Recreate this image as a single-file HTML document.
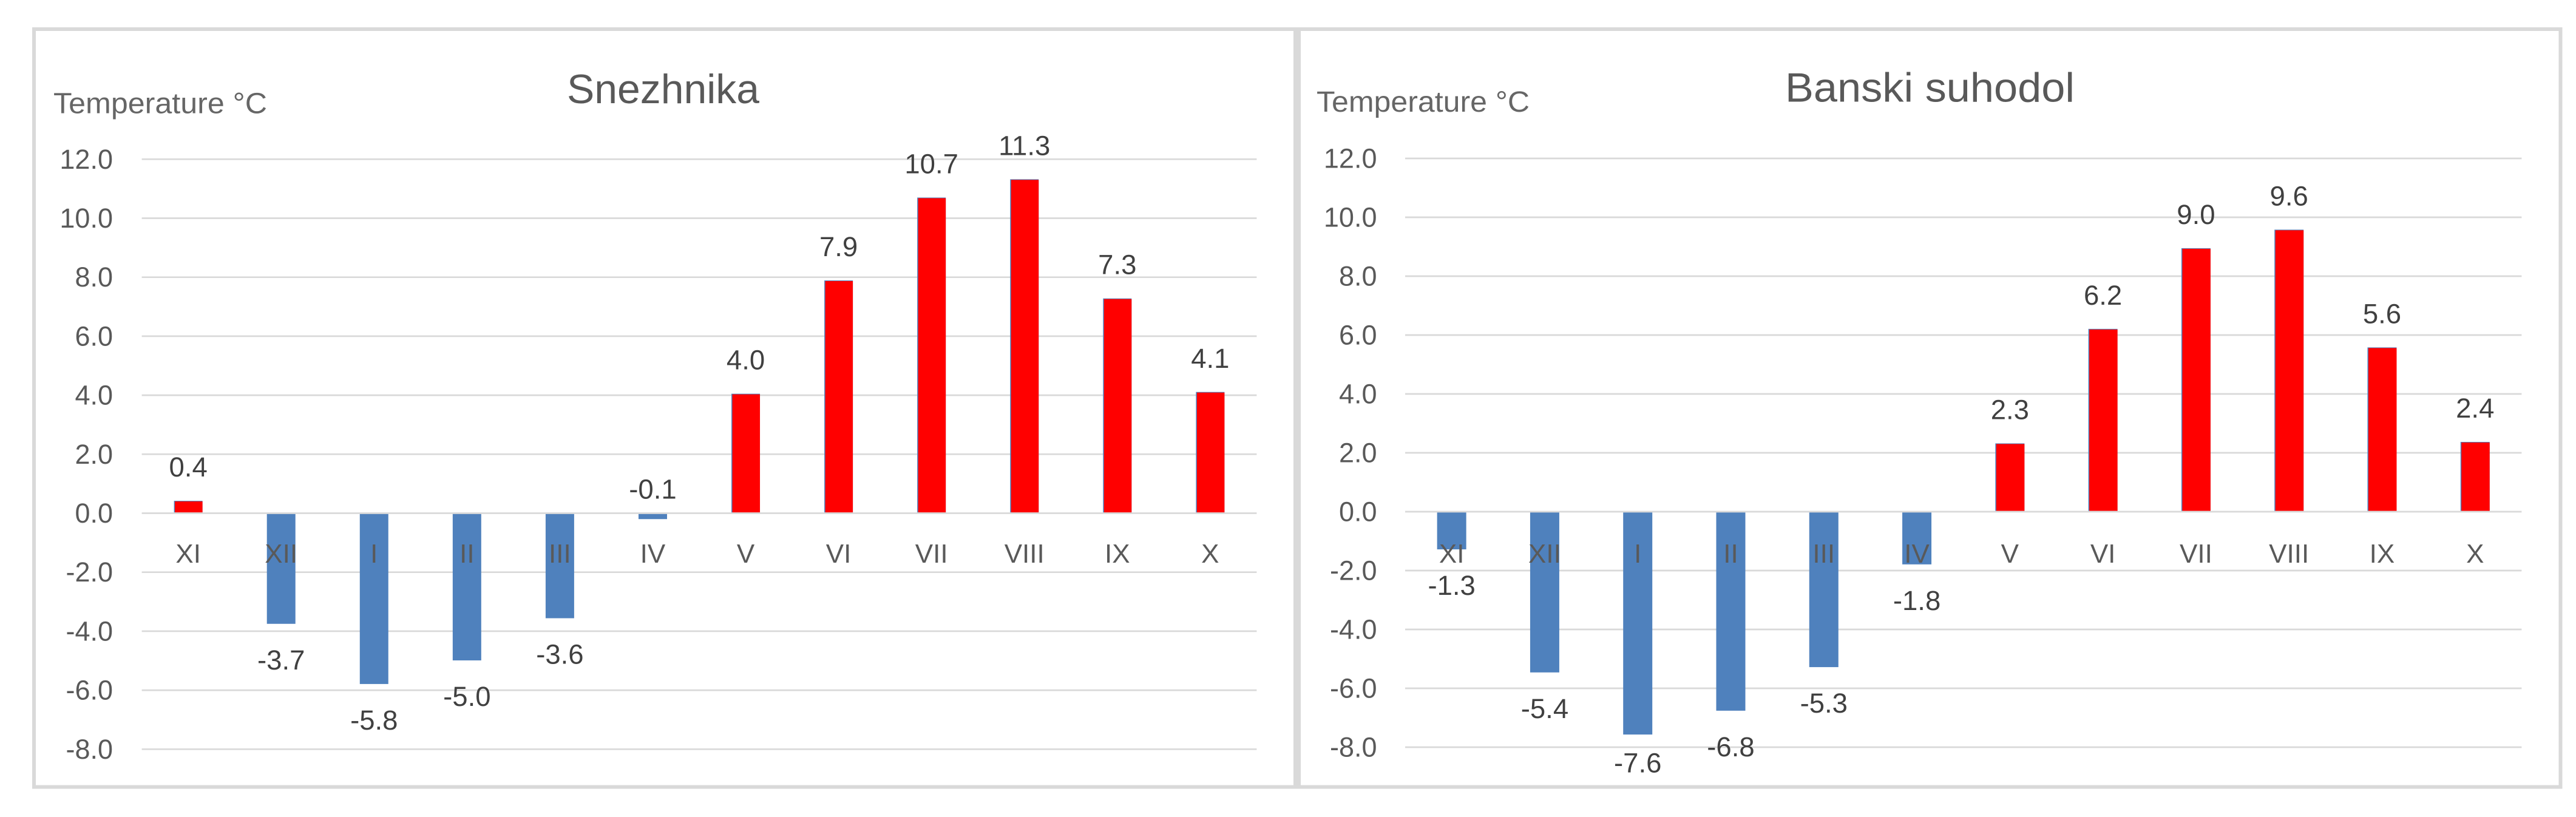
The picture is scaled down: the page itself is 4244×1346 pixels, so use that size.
<!DOCTYPE html>
<html lang="en">
<head>
<meta charset="utf-8">
<title>Monthly temperature: Snezhnika and Banski suhodol</title>
<style>
  html, body { margin: 0; padding: 0; background: #ffffff; }
  svg { display: block; font-family: "Liberation Sans", Arial, sans-serif; }
</style>
</head>
<body>
<svg id="figure" xmlns="http://www.w3.org/2000/svg" width="4244" height="1346" viewBox="0 0 4244 1346">
  <rect x="0" y="0" width="4244" height="1346" fill="#ffffff"/>
  <rect x="56" y="48" width="2078" height="1248.5" fill="#ffffff" stroke="#d9d9d9" stroke-width="6"/>
  <rect x="2140" y="48" width="2078.5" height="1248.5" fill="#ffffff" stroke="#d9d9d9" stroke-width="6"/>
  <g id="chart-snezhnika">
    <text x="934" y="170" font-size="68" fill="#595959" textLength="317" lengthAdjust="spacingAndGlyphs">Snezhnika</text>
    <text x="88" y="186.5" font-size="48" fill="#666666" textLength="352" lengthAdjust="spacingAndGlyphs">Temperature °C</text>
  </g>
  <g id="chart-banski">
    <text x="2941" y="167.5" font-size="68" fill="#595959" textLength="477" lengthAdjust="spacingAndGlyphs">Banski suhodol</text>
    <text x="2169" y="184" font-size="48" fill="#666666" textLength="351" lengthAdjust="spacingAndGlyphs">Temperature °C</text>
  </g>
</svg>
<script>
const categories = ["XI", "XII", "I", "II", "III", "IV", "V", "VI", "VII", "VIII", "IX", "X"];
const yTicks = [12, 10, 8, 6, 4, 2, 0, -2, -4, -6, -8];
const snezhnikaValues = [0.42, -3.75, -5.79, -4.99, -3.56, -0.2, 4.05, 7.89, 10.7, 11.32, 7.28, 4.11];
const snezhnikaLabels = ["0.4", "-3.7", "-5.8", "-5.0", "-3.6", "-0.1", "4.0", "7.9", "10.7", "11.3", "7.3", "4.1"];
const banskiValues = [-1.28, -5.46, -7.57, -6.76, -5.28, -1.79, 2.32, 6.21, 8.95, 9.58, 5.58, 2.37];
const banskiLabels = ["-1.3", "-5.4", "-7.6", "-6.8", "-5.3", "-1.8", "2.3", "6.2", "9.0", "9.6", "5.6", "2.4"];

const SVG_NS = "http://www.w3.org/2000/svg";

function makeShape(parent, tag) {
  const el = document.createElementNS(SVG_NS, tag);
  parent.appendChild(el);
  return el;
}

function drawChart(parent, values, labels, frame) {
  const xBand = function (i) { return frame.left + (frame.right - frame.left) / categories.length * (i + 0.5); };
  const yScale = function (v) { return frame.zero - frame.unit * v; };

  yTicks.forEach(function (tick) {
    if (tick !== 0) {
      const grid = makeShape(parent, "line");
      
      
      grid.setAttribute("x1", frame.left);
      grid.setAttribute("x2", frame.right);
      grid.setAttribute("y1", yScale(tick));
      grid.setAttribute("y2", yScale(tick));
      grid.setAttribute("stroke", "#d9d9d9");
      grid.setAttribute("stroke-width", "2.7");
    }
    const tickLabel = makeShape(parent, "text");
    
    
    tickLabel.setAttribute("x", frame.tickRight);
    tickLabel.setAttribute("y", yScale(tick) + 15.5);
    tickLabel.setAttribute("text-anchor", "end");
    tickLabel.setAttribute("font-size", "45");
    tickLabel.setAttribute("fill", "#595959");
    tickLabel.textContent = tick.toFixed(1);
  });

  values.forEach(function (v, i) {
    const x = xBand(i) - frame.barWidth / 2;
    const end = yScale(v);
    const top = Math.min(end, frame.zero);
    const height = Math.abs(end - frame.zero);

    const bar = makeShape(parent, "rect");
    
    
    bar.setAttribute("x", x);
    bar.setAttribute("y", top);
    bar.setAttribute("width", frame.barWidth);
    bar.setAttribute("height", height);
    bar.setAttribute("fill", "#4f81bd");

    if (v > 0) {
      const overlay = makeShape(parent, "rect");
      
      
      overlay.setAttribute("x", x + 1.5);
      overlay.setAttribute("y", top + 1);
      overlay.setAttribute("width", frame.barWidth - 1.5);
      overlay.setAttribute("height", Math.max(height - 1, 0));
      overlay.setAttribute("fill", "#ff0000");
    }
  });

  const zeroLine = makeShape(parent, "line");
  
  
  zeroLine.setAttribute("x1", frame.left);
  zeroLine.setAttribute("x2", frame.right);
  zeroLine.setAttribute("y1", frame.zero);
  zeroLine.setAttribute("y2", frame.zero);
  zeroLine.setAttribute("stroke", "#d9d9d9");
  zeroLine.setAttribute("stroke-width", "2.7");

  categories.forEach(function (name, i) {
    const cat = makeShape(parent, "text");
    
    
    cat.setAttribute("x", xBand(i));
    cat.setAttribute("y", 927);
    cat.setAttribute("text-anchor", "middle");
    cat.setAttribute("font-size", "44");
    cat.setAttribute("fill", "#595959");
    cat.textContent = name;
  });

  values.forEach(function (v, i) {
    const end = yScale(v);
    let baseline;
    if (v >= 0) {
      baseline = end - 40;
    } else if (v > -0.5) {
      baseline = frame.zero - 24;
    } else {
      baseline = Math.min(end + 75, 1272.5);
    }
    const valueLabel = makeShape(parent, "text");
    
    
    valueLabel.setAttribute("x", xBand(i));
    valueLabel.setAttribute("y", baseline);
    valueLabel.setAttribute("text-anchor", "middle");
    valueLabel.setAttribute("font-size", "45.5");
    valueLabel.setAttribute("fill", "#404040");
    valueLabel.textContent = labels[i];
  });
}

drawChart(document.getElementById("chart-snezhnika"), snezhnikaValues, snezhnikaLabels, {
  left: 233.6, right: 2070.4, zero: 845.5, unit: 48.6, barWidth: 47, tickRight: 186
});
drawChart(document.getElementById("chart-banski"), banskiValues, banskiLabels, {
  left: 2315, right: 4154.4, zero: 843, unit: 48.5, barWidth: 48, tickRight: 2268.5
});
</script>
</body>
</html>
